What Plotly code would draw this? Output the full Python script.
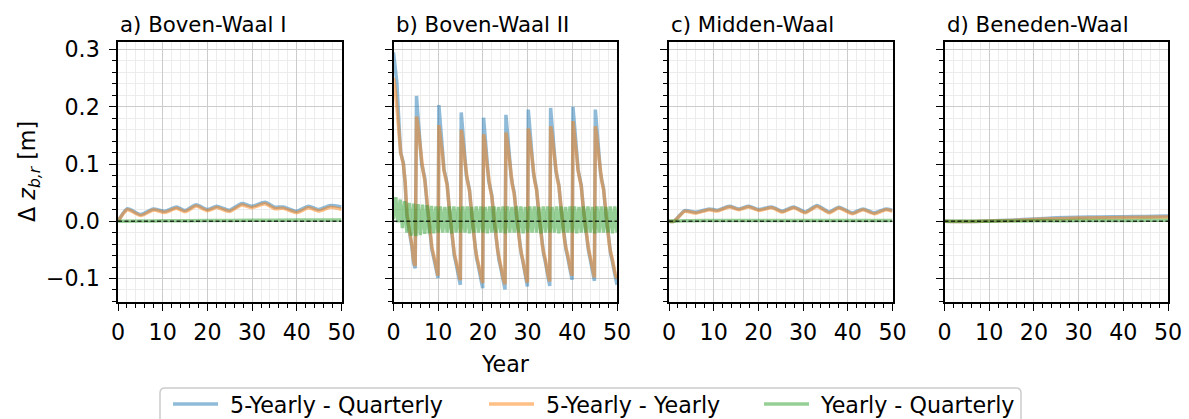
import plotly.graph_objects as go

W, H = 1189, 419

# ---------------- data ----------------
SERIES_NAMES = ["5-Yearly - Quarterly", "5-Yearly - Yearly", "Yearly - Quarterly"]
PANEL_TITLES = ["a) Boven-Waal I", "b) Boven-Waal II", "c) Midden-Waal", "d) Beneden-Waal"]
ZERO_X = [0, 50]
ZERO_Y = [0, 0]
X_TICKS = [0, 10, 20, 30, 40, 50]
Y_TICKS = [-0.1, 0.0, 0.1, 0.2, 0.3]

# a) Boven-Waal I
A_YEARS = [0, 2.1, 5.1, 7.9, 10.5, 13.1, 15, 17.5, 20, 22.1, 24.9, 27.7, 29.9, 32.9, 35.1, 37, 40, 42.6, 44.9, 47.5, 50]
A_BLUE = [0, 0.022, 0.0117, 0.0216, 0.0175, 0.025, 0.0187, 0.0287, 0.0205, 0.0263, 0.0193, 0.031, 0.0263, 0.0333,
          0.0246, 0.025, 0.0175, 0.0263, 0.0205, 0.0275, 0.025]
A_ORANGE = [0, 0.020, 0.010, 0.0195, 0.0155, 0.0228, 0.0167, 0.0265, 0.0185, 0.024, 0.017, 0.0285, 0.0238, 0.0305,
            0.022, 0.0225, 0.015, 0.0235, 0.0178, 0.0245, 0.021]
A_GREEN_YEARS = [0, 5, 10, 20, 30, 40, 50]
A_GREEN = [0, 0.0004, 0.0007, 0.0012, 0.0017, 0.0021, 0.0024]

# b) Boven-Waal II
B_YEARS = [0, 0.3, 0.75, 1.3, 1.6, 2.2, 2.6, 3.0, 3.3, 3.6, 4.1, 4.5, 4.85,
           5.15, 5.4, 5.9, 6.3, 6.6, 7.0, 7.5, 8.0, 8.3, 8.6, 8.9, 9.6, 9.95,
           10.15, 10.4, 10.9, 11.3, 11.6, 12.0, 12.5, 13.0, 13.3, 13.6, 13.9, 14.6, 14.95,
           15.15, 15.4, 15.9, 16.3, 16.6, 17.0, 17.5, 18.0, 18.3, 18.6, 18.9, 19.6, 19.95,
           20.15, 20.4, 20.9, 21.3, 21.6, 22.0, 22.5, 23.0, 23.3, 23.6, 23.9, 24.6, 24.95,
           25.15, 25.4, 25.9, 26.3, 26.6, 27.0, 27.5, 28.0, 28.3, 28.6, 28.9, 29.6, 29.95,
           30.15, 30.4, 30.9, 31.3, 31.6, 32.0, 32.5, 33.0, 33.3, 33.6, 33.9, 34.6, 34.95,
           35.15, 35.4, 35.9, 36.3, 36.6, 37.0, 37.5, 38.0, 38.3, 38.6, 38.9, 39.6, 39.95,
           40.15, 40.4, 40.9, 41.3, 41.6, 42.0, 42.5, 43.0, 43.3, 43.6, 43.9, 44.6, 44.95,
           45.15, 45.4, 45.9, 46.3, 46.6, 47.0, 47.5, 48.0, 48.3, 48.6, 48.9, 49.6, 50.0]
B_BLUE = [0.295, 0.27, 0.243, 0.16, 0.12, 0.102, 0.067, 0.009, -0.01, -0.02, -0.044, -0.073, -0.082,
          0.219, 0.19, 0.14, 0.1, 0.09, 0.075, 0.03, -0.01, -0.035, -0.05, -0.06, -0.09, -0.099,
          0.203, 0.175, 0.125, 0.09, 0.08, 0.065, 0.02, -0.02, -0.045, -0.06, -0.07, -0.1, -0.111,
          0.19, 0.165, 0.115, 0.08, 0.07, 0.055, 0.01, -0.025, -0.05, -0.065, -0.075, -0.105, -0.117,
          0.181, 0.155, 0.105, 0.07, 0.06, 0.045, 0.0, -0.03, -0.055, -0.068, -0.078, -0.108, -0.119,
          0.186, 0.16, 0.115, 0.08, 0.065, 0.05, 0.01, -0.025, -0.045, -0.058, -0.068, -0.1, -0.114,
          0.195, 0.168, 0.12, 0.085, 0.072, 0.057, 0.013, -0.022, -0.045, -0.058, -0.068, -0.1, -0.113,
          0.198, 0.172, 0.125, 0.09, 0.078, 0.063, 0.02, -0.015, -0.038, -0.05, -0.06, -0.09, -0.102,
          0.2, 0.173, 0.125, 0.09, 0.078, 0.063, 0.02, -0.015, -0.038, -0.05, -0.062, -0.092, -0.104,
          0.195, 0.168, 0.12, 0.085, 0.072, 0.057, 0.013, -0.022, -0.045, -0.058, -0.068, -0.1, -0.111]
B_ORANGE = [0.25, 0.235, 0.2, 0.155, 0.12, 0.1, 0.07, 0.015, -0.005, -0.018, -0.04, -0.068, -0.078,
            0.183, 0.17, 0.135, 0.098, 0.088, 0.072, 0.03, -0.008, -0.032, -0.046, -0.056, -0.085, -0.095,
            0.168, 0.155, 0.12, 0.088, 0.078, 0.063, 0.02, -0.018, -0.042, -0.056, -0.066, -0.094, -0.103,
            0.16, 0.147, 0.11, 0.078, 0.068, 0.053, 0.01, -0.023, -0.047, -0.061, -0.071, -0.099, -0.108,
            0.152, 0.14, 0.1, 0.068, 0.058, 0.043, 0.0, -0.028, -0.051, -0.064, -0.073, -0.101, -0.11,
            0.155, 0.143, 0.11, 0.078, 0.063, 0.048, 0.01, -0.023, -0.042, -0.055, -0.065, -0.095, -0.107,
            0.162, 0.15, 0.115, 0.083, 0.07, 0.055, 0.013, -0.02, -0.042, -0.055, -0.064, -0.094, -0.105,
            0.166, 0.155, 0.12, 0.088, 0.076, 0.061, 0.02, -0.013, -0.035, -0.047, -0.056, -0.084, -0.095,
            0.175, 0.16, 0.12, 0.088, 0.076, 0.061, 0.02, -0.013, -0.035, -0.047, -0.058, -0.087, -0.098,
            0.166, 0.153, 0.115, 0.083, 0.07, 0.055, 0.013, -0.02, -0.042, -0.055, -0.064, -0.092, -0.1]
B_GREEN_YEARS = [i * 0.5 for i in range(101)]
B_GREEN = [0.004, 0.042, -0.002, 0.038, -0.012, 0.035, -0.020, 0.032, -0.025, 0.031,
           -0.026, 0.030, -0.024, 0.029, -0.022, 0.028, -0.021, 0.027, -0.021, 0.026,
           -0.020, 0.026, -0.020, 0.025, -0.020, 0.026, -0.021, 0.026, -0.020, 0.025,
           -0.020, 0.026, -0.020, 0.026, -0.021, 0.025, -0.020, 0.026, -0.020, 0.026,
           -0.020, 0.025, -0.021, 0.026, -0.020, 0.026, -0.020, 0.025, -0.020, 0.026,
           -0.021, 0.026, -0.020, 0.025, -0.020, 0.026, -0.020, 0.026, -0.021, 0.025,
           -0.020, 0.026, -0.020, 0.026, -0.020, 0.025, -0.021, 0.026, -0.020, 0.026,
           -0.020, 0.025, -0.020, 0.026, -0.021, 0.026, -0.020, 0.025, -0.020, 0.026,
           -0.020, 0.026, -0.021, 0.025, -0.020, 0.026, -0.020, 0.026, -0.020, 0.025,
           -0.021, 0.026, -0.020, 0.026, -0.020, 0.025, -0.020, 0.026, -0.021, 0.026,
           -0.020]

# c) Midden-Waal
C_YEARS = [0, 1.1, 3.5, 6, 9, 10.8, 13.5, 15.6, 17.8, 20.1, 23, 25.3, 27.9, 30.5, 33.1, 35.8, 38, 41, 43.4, 45.9, 48.5, 50]
C_BLUE = [0, 0, 0.0187, 0.0158, 0.0216, 0.0193, 0.0263, 0.0216, 0.0263, 0.0205, 0.025, 0.0175, 0.025, 0.0164,
          0.0275, 0.0164, 0.0246, 0.0146, 0.0216, 0.0146, 0.0216, 0.0193]
C_ORANGE = [0, 0, 0.0172, 0.0143, 0.0201, 0.0178, 0.0248, 0.0201, 0.0248, 0.019, 0.0235, 0.016, 0.0235, 0.0149,
            0.026, 0.0149, 0.0231, 0.0131, 0.0201, 0.0131, 0.0201, 0.0178]
C_GREEN_YEARS = [0, 2, 5, 10, 20, 30, 40, 50]
C_GREEN = [0, 0.0005, 0.0011, 0.0012, 0.0013, 0.0013, 0.0013, 0.0014]

# d) Beneden-Waal
D_YEARS = [0, 5, 10, 15, 20, 25, 30, 35, 40, 45, 50]
D_BLUE = [0, -0.0005, 0.0005, 0.002, 0.004, 0.006, 0.007, 0.0075, 0.008, 0.0085, 0.009]
D_ORANGE = [0, -0.0005, 0.0003, 0.0015, 0.003, 0.0045, 0.0055, 0.006, 0.0065, 0.007, 0.0075]
D_GREEN = [0, 0, 0.0002, 0.0005, 0.0008, 0.001, 0.0012, 0.0013, 0.0015, 0.0016, 0.0017]

COLORS = ["rgba(31,119,180,0.5)", "rgba(255,127,14,0.5)", "rgba(44,160,44,0.5)"]

panels = [
    dict(series=[(A_YEARS, A_BLUE), (A_YEARS, A_ORANGE), (A_GREEN_YEARS, A_GREEN)], shape="spline"),
    dict(series=[(B_YEARS, B_BLUE), (B_YEARS, B_ORANGE), (B_GREEN_YEARS, B_GREEN)], shape="linear"),
    dict(series=[(C_YEARS, C_BLUE), (C_YEARS, C_ORANGE), (C_GREEN_YEARS, C_GREEN)], shape="spline"),
    dict(series=[(D_YEARS, D_BLUE), (D_YEARS, D_ORANGE), (D_YEARS, D_GREEN)], shape="spline"),
]

# ---------------- layout geometry (pixels) ----------------
LEFTS = [118, 393.5, 669, 944.5]
PW = 223.5
TOP, BOTTOM = 41.5, 302.0
FONT = "DejaVu Sans"
TXT = 22.2

fig = go.Figure()
legend_ids = ["legend", "legend2", "legend3"]

for i, p in enumerate(panels):
    xa = "x" if i == 0 else f"x{i+1}"
    ya = "y" if i == 0 else f"y{i+1}"
    for j, (xs, ys) in enumerate(p["series"]):
        fig.add_trace(go.Scatter(
            x=xs, y=ys, mode="lines", name="\u00a0" + SERIES_NAMES[j],
            line=dict(color=COLORS[j], width=3.5, shape=p["shape"], smoothing=0.6),
            xaxis=xa, yaxis=ya, showlegend=(i == 0), legend=legend_ids[j],
            hoverinfo="skip"))
    fig.add_trace(go.Scatter(
        x=ZERO_X, y=ZERO_Y, mode="lines", showlegend=False,
        line=dict(color="rgba(0,0,0,0.75)", width=1.5, dash="4px,2.5px"),
        xaxis=xa, yaxis=ya, hoverinfo="skip"))

layout = dict(
    width=W, height=H, margin=dict(l=0, r=0, t=0, b=0, autoexpand=False),
    paper_bgcolor="white", plot_bgcolor="white",
    font=dict(family=FONT, size=TXT, color="black"),
    showlegend=True,
)

for i in range(4):
    k = "" if i == 0 else str(i + 1)
    layout["xaxis" + k] = dict(
        domain=[LEFTS[i] / W, (LEFTS[i] + PW) / W], anchor="y" + k,
        range=[0, 50], tickvals=X_TICKS, ticktext=[str(v) for v in X_TICKS],
        showline=True, mirror=True, linecolor="black", linewidth=1.5,
        ticks="outside", ticklen=7, tickwidth=1.3, tickcolor="black",
        showgrid=True, gridcolor="#cccccc", gridwidth=1.3, zeroline=False,
        tickfont=dict(size=TXT), ticklabelstandoff=3,
        minor=dict(dtick=2, tick0=0, ticks="outside", ticklen=4, tickwidth=1.1, tickcolor="black",
                   showgrid=True, gridcolor="#ececec", gridwidth=1),
    )
    layout["yaxis" + k] = dict(
        domain=[1 - BOTTOM / H, 1 - TOP / H], anchor="x" + k,
        range=[-0.141, 0.314], tickvals=Y_TICKS, tickformat=".1f",
        showticklabels=(i == 0),
        showline=True, mirror=True, linecolor="black", linewidth=1.5,
        ticks="outside", ticklen=7, tickwidth=1.3, tickcolor="black",
        showgrid=True, gridcolor="#cccccc", gridwidth=1.3, zeroline=False,
        tickfont=dict(size=TXT), ticklabelstandoff=5,
        minor=dict(dtick=0.02, tick0=0, ticks="outside", ticklen=4, tickwidth=1.1, tickcolor="black",
                   showgrid=True, gridcolor="#ececec", gridwidth=1),
    )

annotations = []
for i, t in enumerate(PANEL_TITLES):
    annotations.append(dict(text=t, x=LEFTS[i] / W, y=1 - 24.5 / H, xref="paper", yref="paper",
                            xanchor="left", yanchor="middle", showarrow=False,
                            font=dict(family=FONT, size=21.3, color="black")))
annotations.append(dict(text="Year", x=(LEFTS[1] + PW / 2) / W, y=1 - 364 / H, xref="paper", yref="paper",
                        xanchor="center", yanchor="middle", showarrow=False,
                        font=dict(family=FONT, size=TXT, color="black")))
annotations.append(dict(text="Δ <i>z</i><sub><i>b,r</i></sub> [m]", x=29 / W, y=1 - 172 / H,
                        xref="paper", yref="paper", xanchor="center", yanchor="middle",
                        textangle=-90, showarrow=False,
                        font=dict(family=FONT, size=TXT, color="black")))
layout["annotations"] = annotations

# legend frame (decoration)
def rounded_rect(x0, y0, x1, y1, r):
    def px(x):
        return x / W
    def py(y):
        return 1 - y / H
    return (f"M{px(x0 + r)},{py(y0)} L{px(x1 - r)},{py(y0)} Q{px(x1)},{py(y0)} {px(x1)},{py(y0 + r)} "
            f"L{px(x1)},{py(y1 - r)} Q{px(x1)},{py(y1)} {px(x1 - r)},{py(y1)} "
            f"L{px(x0 + r)},{py(y1)} Q{px(x0)},{py(y1)} {px(x0)},{py(y1 - r)} "
            f"L{px(x0)},{py(y0 + r)} Q{px(x0)},{py(y0)} {px(x0 + r)},{py(y0)} Z")

layout["shapes"] = [dict(type="path", path=rounded_rect(160, 388, 1021, 432, 5),
                         xref="paper", yref="paper", line=dict(color="#cccccc", width=1.5),
                         fillcolor="rgba(255,255,255,0.8)", layer="above")]

LEG_X = [168, 484, 759]
for lid, lx in zip(legend_ids, LEG_X):
    layout[lid] = dict(x=lx / W, y=1 - 404 / H, xref="container", yref="container",
                       xanchor="left", yanchor="middle",
                       orientation="h", bgcolor="rgba(0,0,0,0)", borderwidth=0,
                       font=dict(family=FONT, size=TXT, color="black"), itemwidth=45)

fig.update_layout(**layout)
fig.write_html("out.html")
